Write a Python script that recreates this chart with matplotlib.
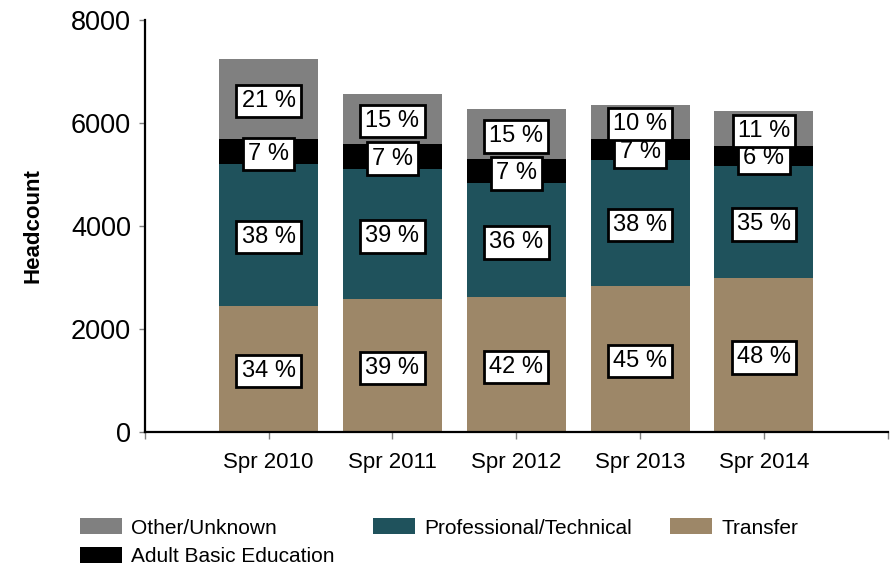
import matplotlib.pyplot as plt
import numpy as np

plt.rcParams['font.family'] = ['Liberation Sans', 'DejaVu Sans']

# data
terms = ['Spr 2010', 'Spr 2011', 'Spr 2012', 'Spr 2013', 'Spr 2014']
transfer = [2450, 2580, 2620, 2840, 2990]
prof_tech = [2755, 2530, 2215, 2445, 2175]
adult_basic = [485, 485, 465, 410, 390]
other = [1555, 970, 970, 660, 680]

transfer_pct = [34, 39, 42, 45, 48]
prof_pct = [38, 39, 36, 38, 35]
abe_pct = [7, 7, 7, 7, 6]
other_pct = [21, 15, 15, 10, 11]

c_transfer = '#9d8768'
c_prof = '#1f525c'
c_abe = '#000000'
c_other = '#808080'

fig = plt.figure(figsize=[8.94, 5.70], dpi=100)
ax = fig.add_axes([0.162, 0.242, 0.831, 0.723])

x = np.arange(len(terms))
w = 0.8
b1 = np.array(transfer)
b2 = b1 + np.array(prof_tech)
b3 = b2 + np.array(adult_basic)

ax.bar(x, transfer, w, color=c_transfer, label='Transfer')
ax.bar(x, prof_tech, w, bottom=b1, color=c_prof, label='Professional/Technical')
ax.bar(x, adult_basic, w, bottom=b2, color=c_abe, label='Adult Basic Education')
ax.bar(x, other, w, bottom=b3, color=c_other, label='Other/Unknown')

box = dict(boxstyle='square,pad=0.22', fc='white', ec='black', lw=2)
for i in x:
    segs = [(0, transfer[i], transfer_pct[i]),
            (b1[i], prof_tech[i], prof_pct[i]),
            (b2[i], adult_basic[i], abe_pct[i]),
            (b3[i], other[i], other_pct[i])]
    for bot, h, p in segs:
        ax.text(i, bot + h / 2 - 45, '%d %%' % p, ha='center', va='center',
                fontsize=17, bbox=box)

ax.set_xlim(-1, 5)
ax.set_ylim(0, 8000)
ax.set_xticks([-1, 0, 1, 2, 3, 4, 5])
ax.set_xticklabels([''] + terms + [''], fontsize=16)
ax.set_yticks([0, 2000, 4000, 6000, 8000])
ax.tick_params(axis='y', labelsize=19.5, length=4, width=1, color='#808080', pad=6)
ax.tick_params(axis='x', length=5, width=1, color='#808080', pad=9)
ax.set_ylabel('Headcount', fontsize=16, fontweight='bold', labelpad=20)
for s in ['top', 'right']:
    ax.spines[s].set_visible(False)
for s in ['left', 'bottom']:
    ax.spines[s].set_linewidth(1.6)

h, l = ax.get_legend_handles_labels()
order = [3, 2, 1, 0]
fig.legend([h[k] for k in order], [l[k] for k in order], ncol=3,
           loc='upper left', bbox_to_anchor=(0.08, 0.105), frameon=False,
           fontsize=15, handlelength=2.0, handleheight=0.8,
           handletextpad=0.45, columnspacing=1.85, labelspacing=0.45,
           borderaxespad=0)

fig.savefig('out.png', dpi=100)
